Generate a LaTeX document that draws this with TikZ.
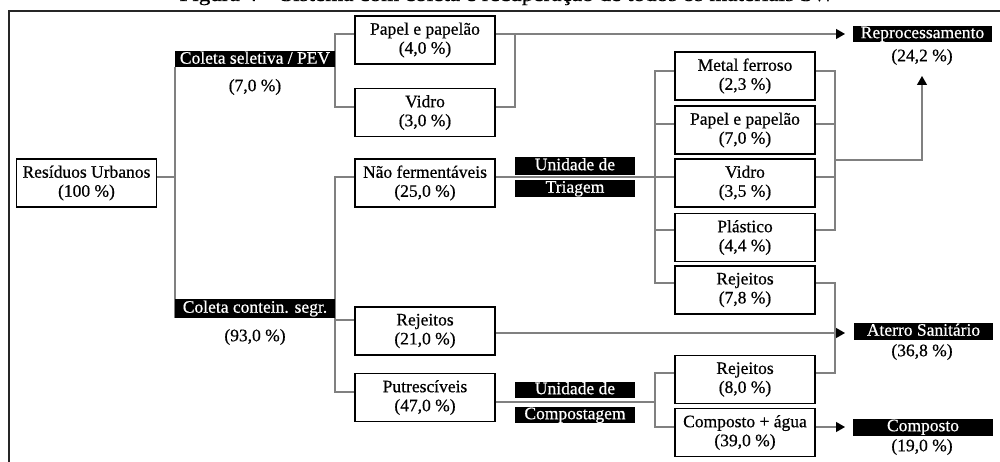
\documentclass[tikz,border=0pt]{standalone}
\usepackage{fontspec}
\setmainfont[FakeBold=0.6,AutoFakeBold=0.6]{Liberation Serif}
\usetikzlibrary{arrows.meta}
\newcommand{\dfs}{\fontsize{17.5}{19}\selectfont}
\begin{document}
\begin{tikzpicture}[x=1pt,y=-1pt,
  bx/.style={draw=black,line width=1.6pt,minimum width=140pt,minimum height=48pt,inner sep=0pt,align=center,font=\dfs},
  lab/.style={fill=black,text=white,inner sep=0pt,text height=12.2pt,text depth=3.8pt,font=\dfs},
  pct/.style={inner sep=0pt,font=\dfs},
  conn/.style={draw=black!50,line width=1.2pt},
  arr/.style={conn,-{Triangle[length=9pt,width=10pt,color=black]},shorten >=3pt}]
\useasboundingbox (0,0) rectangle (1000,462);
% caption (cut off at top in the reference)
\node[anchor=base,inner sep=0pt,font=\fontsize{19.5}{20}\selectfont] (cap) at (507,1) {\resizebox{655pt}{\height}{Figura 4 -- Sistema com coleta e recuperação de todos os materiais SW}};
% frame
\draw[line width=2pt,black!85] (9,470) -- (9,11) -- (1010,11);
% boxes
\node[bx] (ru) at (86.5,183) {Resíduos Urbanos\\(100 \%)};
\node[bx] (pp1) at (425,40) {Papel e papelão\\(4,0 \%)};
\node[bx] (vid1) at (425,112.5) {Vidro\\(3,0 \%)};
\node[bx] (naof) at (425,183) {Não fermentáveis\\(25,0 \%)};
\node[bx] (rej21) at (425,331) {Rejeitos\\(21,0 \%)};
\node[bx] (putr) at (425,397.5) {Putrescíveis\\(47,0 \%)};
\node[bx] (met) at (745,76) {Metal ferroso\\(2,3 \%)};
\node[bx] (pp2) at (745,130) {Papel e papelão\\(7,0 \%)};
\node[bx] (vid2) at (745,183) {Vidro\\(3,5 \%)};
\node[bx] (plas) at (745,237.5) {Plástico\\(4,4 \%)};
\node[bx] (rej78) at (745,290) {Rejeitos\\(7,8 \%)};
\node[bx] (rej80) at (745,379.5) {Rejeitos\\(8,0 \%)};
\node[bx] (comp) at (745,432.5) {Composto + água\\(39,0 \%)};
% coordinates for junctions
\coordinate (j1) at (515,34);
\coordinate (tr) at (655,177);
\coordinate (rp) at (835,160);
\coordinate (jr) at (835,333);
\coordinate (cp) at (655,402);
% connectors
\draw[conn] ([yshift=6pt]ru.east) -- (175,177);
\draw[conn] (175,67) -- (175,318);
\draw[conn] ([yshift=6pt]pp1.west) -| (335,60) |- ([yshift=5.5pt]vid1.west);
\draw[conn] ([yshift=6pt]naof.west) -| (335,310) |- ([yshift=5.5pt]putr.west);
\draw[conn] ([yshift=11pt]rej21.west) -- ++(-20,0);
\draw[arr] ([yshift=6pt]pp1.east) -- (848,34);
\draw[conn] ([yshift=5.5pt]vid1.east) -| (j1);
\draw[conn] ([yshift=6pt]naof.east) -- (tr);
\draw[conn] ([yshift=5pt]met.west) -| (tr) |- ([yshift=7pt]rej78.west);
\draw[conn] ([yshift=6pt]pp2.west) -- ++(-20,0);
\draw[conn] ([yshift=6pt]vid2.west) -- ++(-20,0);
\draw[conn] ([yshift=7.5pt]plas.west) -- ++(-20,0);
\draw[conn] ([yshift=5pt]met.east) -| (rp) |- ([yshift=7.5pt]plas.east);
\draw[conn] ([yshift=6pt]pp2.east) -- ++(20,0);
\draw[conn] ([yshift=6pt]vid2.east) -- ++(20,0);
\draw[arr] (rp) -| (922,73);
\draw[conn] ([yshift=7pt]rej78.east) -| (jr) |- ([yshift=6.5pt]rej80.east);
\draw[arr] ([yshift=-2pt]rej21.east) -- (848,333);
\draw[conn] ([yshift=-4.5pt]putr.east) -- (cp);
\draw[conn] ([yshift=6.5pt]rej80.west) -| (cp) |- ([yshift=5.5pt]comp.west);
\draw[arr] ([yshift=5.5pt]comp.east) -- (848,427);
% labels
\node[lab,minimum width=160pt] (cs) at (255,59.5) {Coleta seletiva / PEV};
\node[pct] (csp) at (255,87) {(7,0 \%)};
\node[lab,minimum width=160pt,minimum height=19pt] (cc) at (255,308.5) {Coleta contein. segr.};
\node[pct] (ccp) at (255,337) {(93,0 \%)};
\node[lab,minimum width=120pt,minimum height=18pt] (ut1) at (575,166) {Unidade de};
\node[lab,minimum width=120pt,minimum height=17pt] (ut2) at (575,188.5) {Triagem};
\node[lab,minimum width=120pt] (uc1) at (575,390) {Unidade de};
\node[lab,minimum width=120pt] (uc2) at (575,415) {Compostagem};
\node[lab,minimum width=139pt] (repro) at (922.5,34) {Reprocessamento};
\node[pct] (reprop) at (922,57) {(24,2 \%)};
\node[lab,minimum width=139pt,minimum height=17pt] (aterro) at (923.5,331.5) {Aterro Sanitário};
\node[pct] (aterrop) at (922,352) {(36,8 \%)};
\node[lab,minimum width=140pt,minimum height=17pt] (compo) at (923,427) {Composto};
\node[pct] (compop) at (922,447) {(19,0 \%)};
\end{tikzpicture}
\end{document}
